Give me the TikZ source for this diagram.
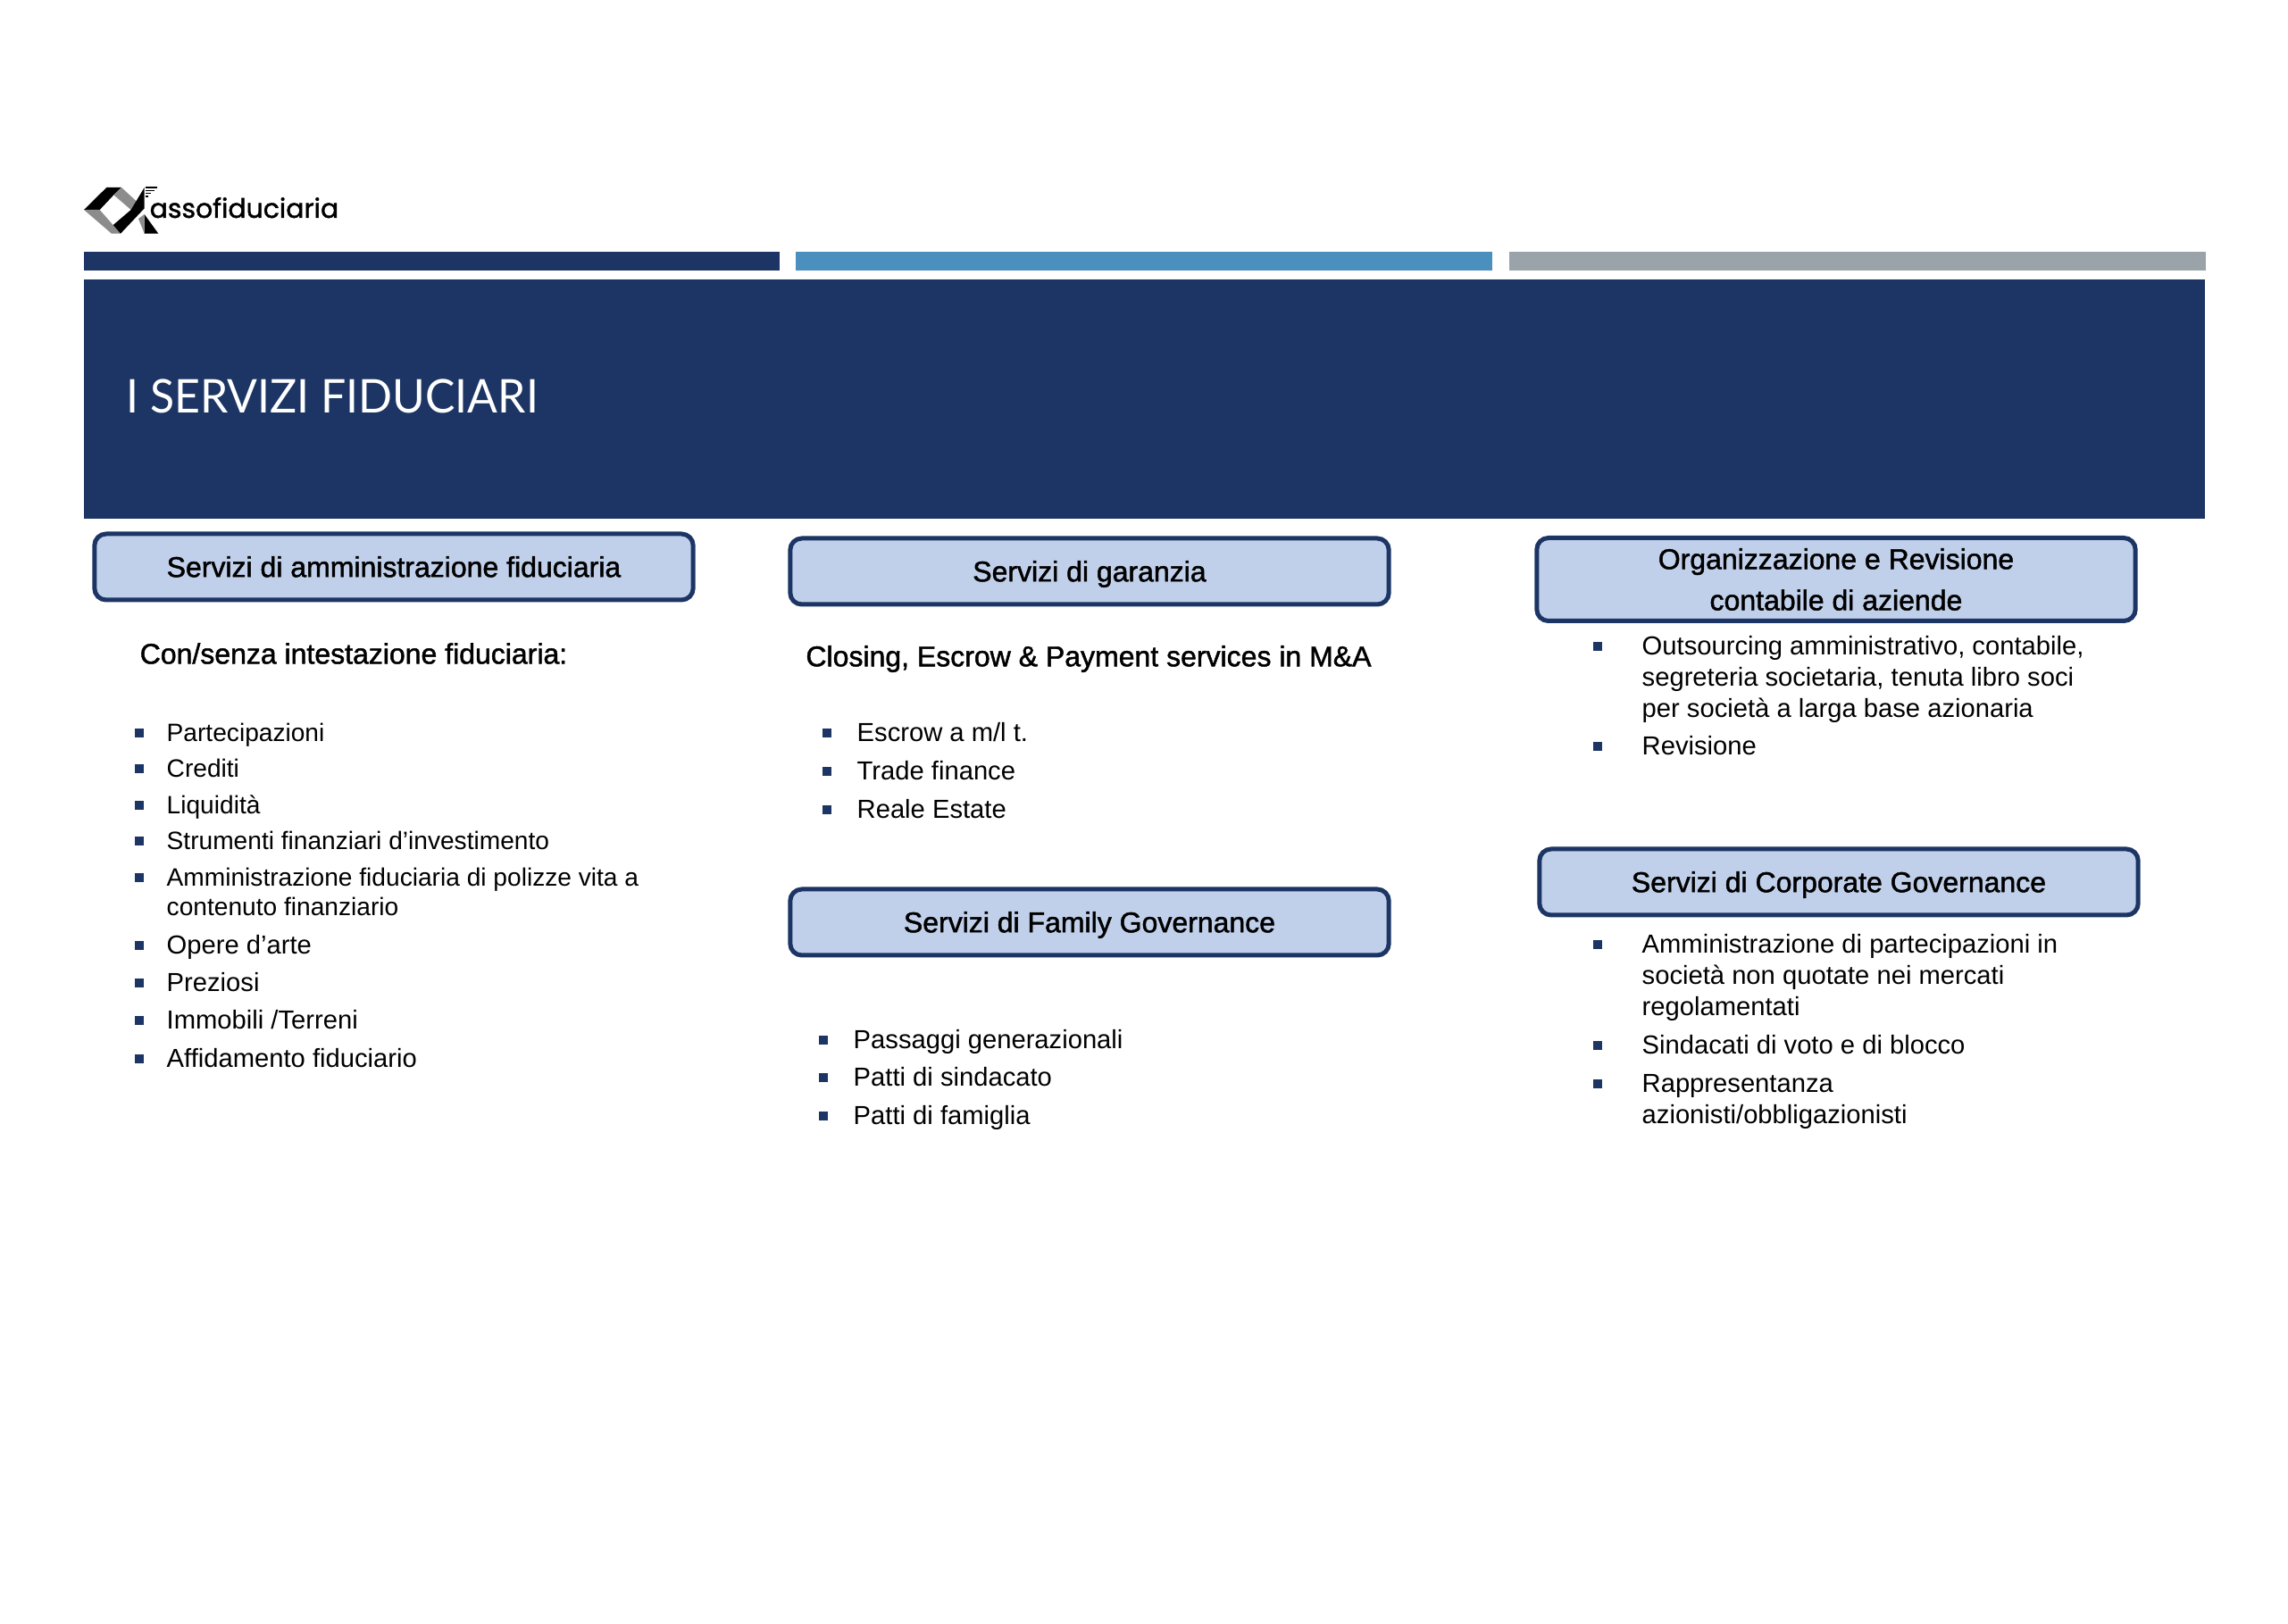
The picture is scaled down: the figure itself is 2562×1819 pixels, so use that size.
\documentclass[tikz,border=0pt]{standalone}
\usepackage{fontspec}
\setmainfont{Liberation Sans}
\newfontfamily\titlefont[FakeStretch=0.96]{Lato}
\newfontfamily\headfont[FakeBold=1.5]{Liberation Sans}
\newfontfamily\logofont[FakeBold=1.5]{Poppins}
\definecolor{bannerBlue}{HTML}{1C3564}
\definecolor{midBlue}{HTML}{4A8FBE}
\definecolor{barGrey}{HTML}{9BA3AA}
\definecolor{boxBlue}{HTML}{C1D0EA}
\definecolor{logoGrey}{HTML}{8C8C8C}

\begin{document}
\begin{tikzpicture}
[x=0.01cm,y=-0.01cm,%
  barDecorate/.style={shape=rectangle,inner sep=0pt,anchor=north west},%
  boxDecorate/.style={shape=rectangle,rounded corners=0.13cm,draw=bannerBlue,line width=0.05cm,fill=boxBlue,inner sep=0pt,minimum width=6.7cm,align=center,font=\fontsize{9.1pt}{13.1pt}\headfont},%
  oneLine/.style={text height=7pt,text depth=0.6pt},%
  twoLines/.style={},%
  subDecorate/.style={inner sep=0pt,font=\fontsize{9.1pt}{11pt}\headfont},%
  lineDecorate/.style={inner sep=0pt,anchor=base west,font=\fontsize{8pt}{10pt}\selectfont},%
  lineLarge/.style={inner sep=0pt,anchor=base west,font=\fontsize{8.3pt}{10pt}\selectfont},%
  bulletDecorate/.style={shape=rectangle,inner sep=0pt,minimum size=0.095cm,fill=bannerBlue}]
\useasboundingbox (0,0) rectangle (2562,1819);
%% bars and banner
\foreach \barname/\x/\y/\w/\h/\c in {
  barA/93/281/779/21/bannerBlue, barB/890/281/780/21/midBlue, barC/1689/281/780/21/barGrey,
  banner/93/312/2375/268/bannerBlue}
{
  \node (\barname) at (\x,\y) [barDecorate,minimum width=\w*0.01cm,minimum height=\h*0.01cm,fill=\c] {};
}
\node (title) at (141,444) [anchor=west,inner sep=0pt,text=white,font=\fontsize{14.8pt}{16pt}\titlefont] {I SERVIZI FIDUCIARI};
%% logo
\begin{scope}[shift={(90,200)},scale=1/3]
  \fill[black] (12,105) -- (88,30) -- (138,30) -- (112,55) -- (65,105) -- cycle;
  \fill[logoGrey] (138,30) -- (212,98) -- (170,105) -- (112,55) -- cycle;
  \fill[black] (215,30) -- (170,105) -- (108,158) -- (135,185) -- (215,100) -- cycle;
  \fill[logoGrey] (12,105) -- (65,105) -- (135,185) -- (105,185) -- cycle;
  \fill[black] (215,120) -- (262,185) -- (215,185) -- cycle;
  \fill[logoGrey] (195,135) -- (215,120) -- (215,185) -- cycle;
  \foreach \s in {0,10,20,30,40}
    \draw[black,line width=0.015cm] (218,30+\s) -- (258-\s,30+\s);
\end{scope}
\node (logotext) at (167,244) [anchor=base west,inner sep=0pt,font=\fontsize{8.5pt}{10pt}\logofont] {assofiduciaria};
%% header boxes
\foreach \boxname/\x/\y/\h/\boxkind/\boxtext in {
  boxAmm/441/635/74/oneLine/{Servizi di amministrazione fiduciaria},
  boxGar/1220/640/74/oneLine/{Servizi di garanzia},
  boxFam/1220/1033/74/oneLine/{Servizi di Family Governance},
  boxOrg/2056/649/93/twoLines/{Organizzazione e Revisione\\contabile di aziende},
  boxCor/2059/988/74/oneLine/{Servizi di Corporate Governance}}
{
  \node (\boxname) at (\x,\y) [boxDecorate,\boxkind,minimum height=\h*0.01cm] {\boxtext};
}
\node (subAmm) at (396,732) [subDecorate] {Con/senza intestazione fiduciaria:};
\node (subGar) at (1219,738) [subDecorate] {Closing, Escrow \& Payment services in M\&A};
%% text lines
\foreach \linename/\x/\y/\linetext in {
  a1/186/831/Partecipazioni, a2/186/871/Crediti, a3/186/912/Liquidità,
  a4/186/952/{Strumenti finanziari d’investimento},
  a5/186/993/{Amministrazione fiduciaria di polizze vita a},
  a6/186/1026/{contenuto finanziario}}
{
  \node (\linename) at (\x,\y) [lineDecorate] {\linetext};
}
\foreach \linename/\x/\y/\linetext in {
  a7/186/1069/{Opere d’arte}, a8/186/1111/Preziosi,
  a9/186/1153/{Immobili /Terreni}, a10/186/1196/{Affidamento fiduciario},
  g1/959/831/{Escrow a m/l t.}, g2/959/874/{Trade finance}, g3/959/917/{Reale Estate},
  f1/955/1175/{Passaggi generazionali}, f2/955/1217/{Patti di sindacato}, f3/955/1260/{Patti di famiglia},
  o1/1838/734/{Outsourcing amministrativo, contabile,},
  o2/1838/769/{segreteria societaria, tenuta libro soci},
  o3/1838/804/{per società a larga base azionaria},
  o4/1838/846/Revisione,
  c1/1838/1068/{Amministrazione di partecipazioni in},
  c2/1838/1103/{società non quotate nei mercati},
  c3/1838/1138/regolamentati,
  c4/1838/1181/{Sindacati di voto e di blocco},
  c5/1838/1224/Rappresentanza,
  c6/1838/1259/{azionisti/obbligazionisti}}
{
  \node (\linename) at (\x,\y) [lineLarge] {\linetext};
}
%% bullets
\foreach \bulletname/\x/\y in {
  ba1/156/821, ba2/156/861, ba3/156/902, ba4/156/942, ba5/156/983,
  ba7/156/1059, ba8/156/1101, ba9/156/1143, ba10/156/1186,
  bg1/926/821, bg2/926/864, bg3/926/907,
  bf1/922/1165, bf2/922/1207, bf3/922/1250,
  bo1/1789/724, bo4/1789/836,
  bc1/1789/1058, bc4/1789/1171, bc5/1789/1214}
{
  \node (\bulletname) at (\x,\y) [bulletDecorate] {};
}
\end{tikzpicture}
\end{document}
